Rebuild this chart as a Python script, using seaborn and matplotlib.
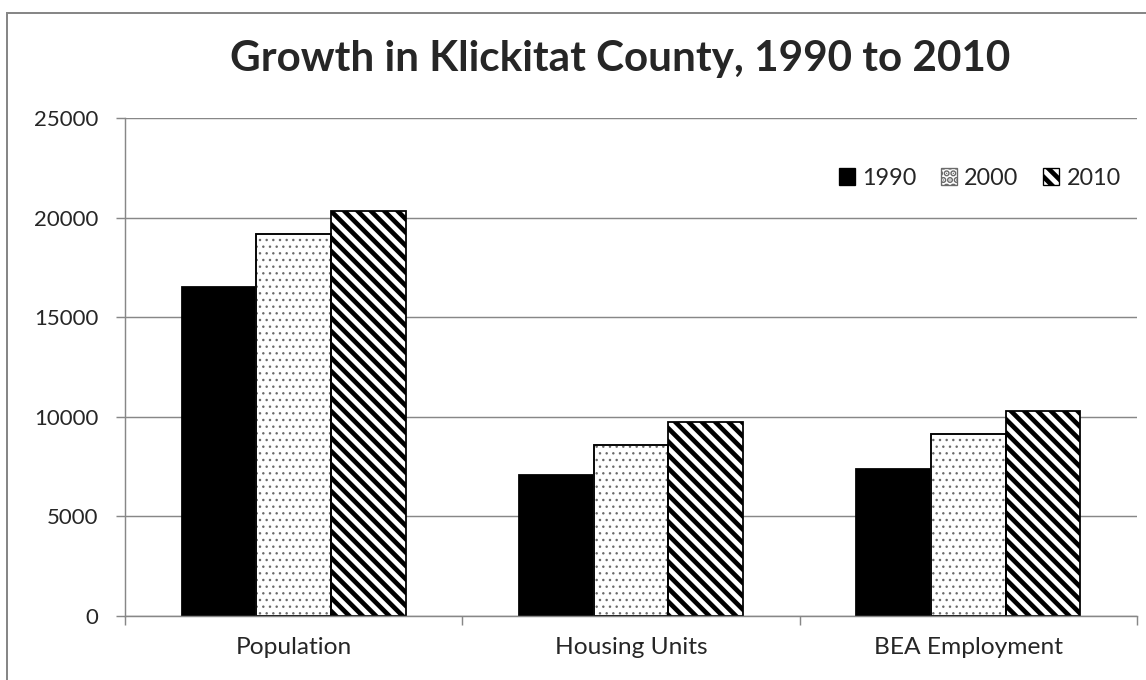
import pandas as pd
import matplotlib.pyplot as plt
import seaborn as sns
from matplotlib.patches import Patch, Rectangle

# Data
categories = ['Population', 'Housing Units', 'BEA Employment']
years = ['1990', '2000', '2010']
vals_1990 = [16520, 7080, 7380]
vals_2000 = [19170, 8590, 9140]
vals_2010 = [20330, 9740, 10290]

colors = ['black', 'white', 'white']
hatches = ['', '..', '\\\\']
hatch_edge = ['black', '#6a6a6a', 'black']
hatch_lw = [1.0, 1.0, 4.2]
GRAY = '#878787'

df = pd.DataFrame({
    'category': categories * 3,
    'year': [y for y in years for _ in categories],
    'value': vals_1990 + vals_2000 + vals_2010,
})

sns.set_style('white')
plt.rcParams['font.family'] = ['Lato', 'DejaVu Sans']
plt.rcParams['hatch.linewidth'] = 4.2

DPI = 80
fig = plt.figure(figsize=(1146 / DPI, 680 / DPI), dpi=DPI)
ax = fig.add_axes([125 / 1146, 64 / 680, (1137 - 125) / 1146, (616 - 118) / 680])

sns.barplot(data=df, x='category', y='value', hue='year', palette=colors,
            width=0.664, edgecolor='black', linewidth=1.6, legend=False, ax=ax)

for cont, h, ec, hl in zip(ax.containers, hatches, hatch_edge, hatch_lw):
    for bar in cont:
        bar.set_hatch(h)
        bar.set_edgecolor(ec)
        if hasattr(bar, 'set_hatch_linewidth'):
            bar.set_hatch_linewidth(hl)
        if ec != 'black':
            # hatch takes the edge colour, so redraw a black outline on top
            ax.add_patch(Rectangle(bar.get_xy(), bar.get_width(), bar.get_height(),
                                   fill=False, edgecolor='black', linewidth=1.6))

ax.set_ylim(0, 25000)
ax.set_xlim(-0.5, 2.5)
ax.set_yticks(range(0, 25001, 5000))
ax.yaxis.grid(True, color=GRAY, linewidth=1.3)
ax.set_axisbelow(True)
ax.tick_params(axis='y', length=8, width=1.3, color=GRAY, labelsize=20, pad=16, left=True)

ax.set_xticks([0, 1, 2], categories)
ax.set_xticks([-0.5, 0.5, 1.5, 2.5], minor=True)
ax.tick_params(axis='x', which='major', length=0, labelsize=22, pad=19)
ax.tick_params(axis='x', which='minor', length=8, width=1.3, color=GRAY, bottom=True)
ax.set_xlabel('')
ax.set_ylabel('')

for side in ['top', 'right']:
    ax.spines[side].set_visible(False)
for side in ['left', 'bottom']:
    ax.spines[side].set_color(GRAY)
    ax.spines[side].set_linewidth(1.3)

handles = []
for c, h, ec, hl in zip(colors, hatches, hatch_edge, hatch_lw):
    p = Patch(facecolor=c, edgecolor=ec, hatch=h, linewidth=1.2)
    if hasattr(p, 'set_hatch_linewidth'):
        p.set_hatch_linewidth(min(hl, 2.5))
    handles.append(p)
ax.legend(handles, years, ncol=3, frameon=False, fontsize=21,
          loc='center right', bbox_to_anchor=(1.0, 0.8795),
          handlelength=0.7, handleheight=0.7, handletextpad=0.3,
          columnspacing=1.05, borderpad=0.2)

fig.text(620 / 1146, 1 - 59 / 680, 'Growth in Klickitat County, 1990 to 2010',
         ha='center', va='center', fontsize=38, fontweight='bold')

# chart border (only top/left visible in the crop)
fig.patches.append(Rectangle((7 / 1146, -0.1), 1.2, 1 - 13 / 680 + 0.1,
                             transform=fig.transFigure, fill=False,
                             edgecolor=GRAY, linewidth=1.8))

fig.savefig('out.png', dpi=DPI)
